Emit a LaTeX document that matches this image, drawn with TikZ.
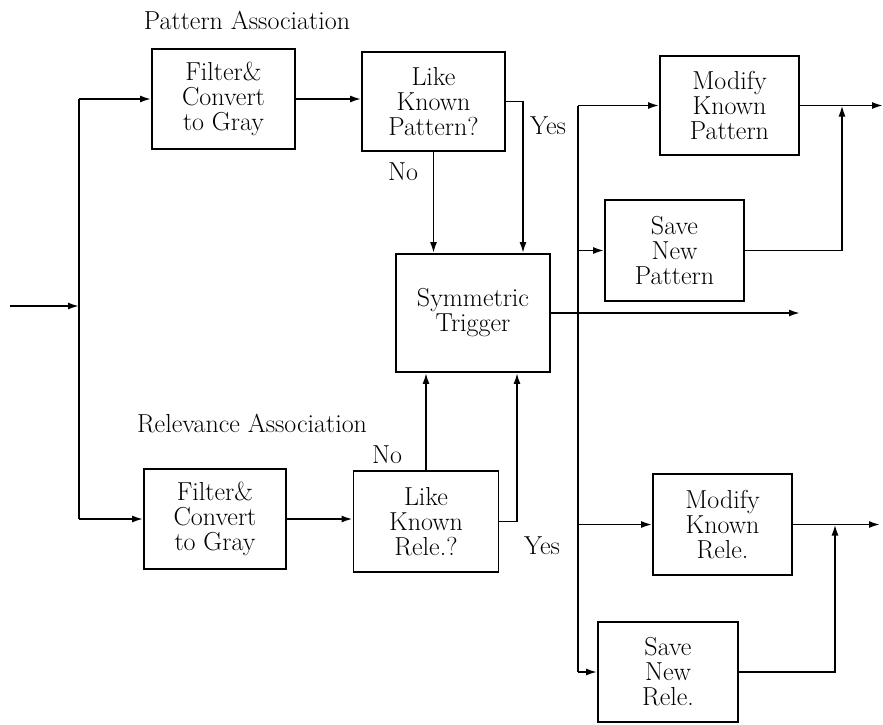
\documentclass[tikz,border=0pt]{standalone}
\usepackage{tikz}
\usetikzlibrary{arrows.meta, positioning, calc}
\tikzset{
  blockbox/.style={draw, line width=1.8pt, align=center, inner sep=0pt,
    font=\fontsize{26}{25}\selectfont},
  wire/.style={line width=1.8pt},
  feed/.style={wire, -{Latex[length=11pt,width=7pt]}},
  tag/.style={font=\fontsize{26}{25}\selectfont, inner sep=0pt},
}

\begin{document}
\begin{tikzpicture}[x=1pt, y=-1pt]
    \useasboundingbox (0,0) rectangle (883,724);

    % pattern association
    \node[tag] (pathead) at (247,20) {Pattern Association};
    \node[blockbox, minimum width=143pt, minimum height=100pt] (filtp) at (223.5,99) {Filter\&\\Convert\\to Gray};
    \node[blockbox, minimum width=143pt, minimum height=99pt] (likep) at (433.5,101.5) {Like\\Known\\Pattern?};

    % trigger
    \node[blockbox, minimum width=154pt, minimum height=118pt] (trig) at (473,313) {Symmetric\\Trigger};

    % relevance association
    \node[tag] (relhead) at (252,424) {Relevance Association};
    \node[blockbox, minimum width=142pt, minimum height=100pt] (filtr) at (215,519) {Filter\&\\Convert\\to Gray};
    \node[blockbox, minimum width=145pt, minimum height=101pt] (liker) at (426,521.5) {Like\\Known\\Rele.?};

    % outputs
    \node[blockbox, minimum width=139pt, minimum height=99pt] (modp) at (729.5,105.5) {Modify\\Known\\Pattern};
    \node[blockbox, minimum width=139pt, minimum height=101pt] (savep) at (674.5,250.5) {Save\\New\\Pattern};
    \node[blockbox, minimum width=139pt, minimum height=101pt] (modr) at (722.5,524.5) {Modify\\Known\\Rele.};
    \node[blockbox, minimum width=140pt, minimum height=100pt] (saver) at (668,672) {Save\\New\\Rele.};

    % labels
    \node[tag] (nop) at (403,172) {No};
    \node[tag] (yesp) at (548,126) {Yes};
    \node[tag] (nor) at (387,455) {No};
    \node[tag] (yesr) at (542,546) {Yes};

    % input spine
    \coordinate (in) at (10,306);
    \coordinate (inj) at (79,306);
    \coordinate (spt) at (79,99);
    \coordinate (spb) at (79,519);
    \draw[feed] (in) -- (inj);
    \draw[wire] (spt) -- (spb);
    \draw[feed] (spt) -- (filtp.west);
    \draw[feed] (spb) -- (filtr.west);
    \draw[feed] (filtp.east) -- (filtp.east -| likep.west);
    \draw[feed] (filtr.east) -- (filtr.east -| liker.west);

    % into the trigger
    \coordinate (yp) at (523,101.5);
    \coordinate (yr) at (517,521.5);
    \draw[feed] (likep.south) -- (likep.south |- trig.north);
    \draw[feed] (likep.east) -- (yp) -- (yp |- trig.north);
    \draw[feed] (liker.north) -- (liker.north |- trig.south);
    \draw[feed] (liker.east) -- (yr) -- (yr |- trig.south);

    % trigger out
    \coordinate (tout) at (800,313);
    \draw[feed] (trig.east) -- (tout);

    % output spine
    \coordinate (rst) at (578,105.5);
    \coordinate (rsb) at (578,672);
    \draw[wire] (rst) -- (rsb);
    \draw[feed] (rst) -- (modp.west);
    \draw[feed] (rst |- savep.west) -- (savep.west);
    \draw[feed] (rst |- modr.west) -- (modr.west);
    \draw[feed] (rsb) -- (saver.west);

    % merged outputs
    \coordinate (outp) at (883,105.5);
    \coordinate (jp) at (842,105.5);
    \coordinate (outr) at (880,524.5);
    \coordinate (jr) at (835,524.5);
    \draw[feed] (modp.east) -- (outp);
    \draw[feed] (savep.east) -| (jp);
    \draw[feed] (modr.east) -- (outr);
    \draw[feed] (saver.east) -| (jr);
\end{tikzpicture}
\end{document}
